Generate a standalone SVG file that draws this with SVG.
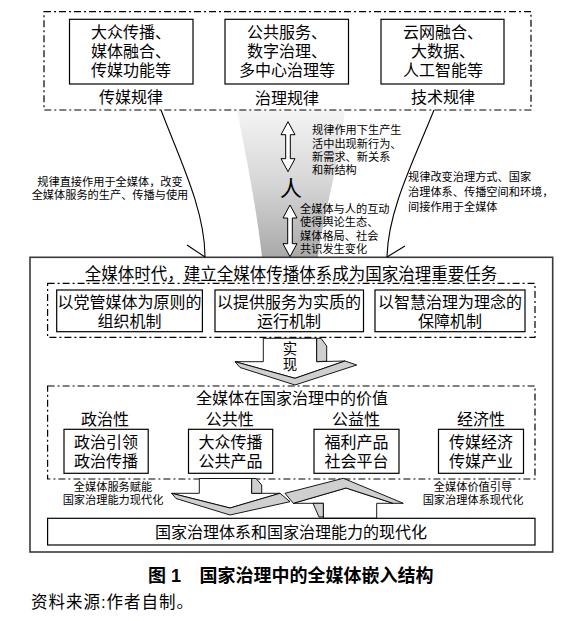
<svg xmlns="http://www.w3.org/2000/svg" width="571" height="621" viewBox="0 0 571 621">
<defs>
<linearGradient id="fun" x1="0" y1="0" x2="0" y2="1">
<stop offset="0" stop-color="#f4f4f4"/>
<stop offset="0.5" stop-color="#d6d6d6"/>
<stop offset="1" stop-color="#a9a9a9"/>
</linearGradient>
<style>
.box{fill:#fff;stroke:#000;stroke-width:1.2}
.dash{fill:none;stroke:#000;stroke-width:1.2;stroke-dasharray:7 3 2 3}
.outer{fill:#fff;stroke:#3a3a3a;stroke-width:1.6}
.ln{fill:none;stroke:#000;stroke-width:1.1}
.dbl{fill:#fff;stroke:#000;stroke-width:1}
.wf{fill:#fff;stroke:#000;stroke-width:0.9;stroke-linejoin:round}
.gf{fill:#cfcfcf;stroke:#000;stroke-width:0.9;stroke-linejoin:round}
text{font-family:"Liberation Sans","Noto Sans CJK SC","Noto Sans CJK TC",sans-serif;fill:#000}
.t16{font-size:16px;text-anchor:middle}
.t11{font-size:11.2px}
.m{text-anchor:middle}
</style>
</defs>
<rect width="571" height="621" fill="#fff"/>
<path d="M237,110 L345,110 C336,180 322,220 318,257 L262,257 C258,220 250,175 237,110 Z" fill="url(#fun)"/>
<g id="laws">
<rect class="dash" x="44" y="11.7" width="487" height="98.3"/>
</g>
<g id="law-media">
<rect class="box" x="69.5" y="19.3" width="123.5" height="64.7"/>
<text class="t16" y="37.5"><tspan x="131">大众传播、</tspan><tspan x="131" dy="19">媒体融合、</tspan><tspan x="131" dy="19">传媒功能等</tspan></text>
<text class="t16" x="131" y="103">传媒规律</text>
</g>
<g id="law-gov">
<rect class="box" x="225" y="19.3" width="123.5" height="64.7"/>
<text class="t16" y="37.5"><tspan x="287">公共服务、</tspan><tspan x="287" dy="19">数字治理、</tspan><tspan x="287" dy="19">多中心治理等</tspan></text>
<text class="t16" x="287" y="104">治理规律</text>
</g>
<g id="law-tech">
<rect class="box" x="381" y="19.3" width="123" height="64.7"/>
<text class="t16" y="37.5"><tspan x="443">云网融合、</tspan><tspan x="443" dy="19">大数据、</tspan><tspan x="443" dy="19">人工智能等</tspan></text>
<text class="t16" x="443" y="103">技术规律</text>
</g>
<g id="person">
<text x="291" y="196" font-size="22" class="m">人</text>
</g>
<g id="notes">
<text class="t11 m" y="186"><tspan x="110">规律直接作用于全媒体，改变</tspan><tspan x="110" dy="13.3">全媒体服务的生产、传播与使用</tspan></text>
<text class="t11" y="181"><tspan x="408">规律改变治理方式、国家</tspan><tspan x="408" dy="15">治理体系、传播空间和环境，</tspan><tspan x="408" dy="15">间接作用于全媒体</tspan></text>
<text class="t11" y="134.3"><tspan x="312">规律作用下生产生</tspan><tspan x="312" dy="13.3">活中出现新行为、</tspan><tspan x="312" dy="13.3">新需求、新关系</tspan><tspan x="312" dy="13.3">和新结构</tspan></text>
<text class="t11" y="212.6"><tspan x="300">全媒体与人的互动</tspan><tspan x="300" dy="13.5">使得舆论生态、</tspan><tspan x="300" dy="13.5">媒体格局、社会</tspan><tspan x="300" dy="13.5">共识发生变化</tspan></text>
</g>
<g id="system">
<rect class="outer" x="30" y="257.3" width="522.7" height="294.7"/>
<text class="m" x="291" y="279.7" font-size="16.5">全媒体时代，建立全媒体传播体系成为国家治理重要任务</text>
<rect class="dash" x="47.6" y="283.3" width="487.4" height="54"/>
</g>
<g id="mech-org">
<rect class="box" x="56.7" y="290" width="145.7" height="41.7"/>
<text class="t16" y="307.7"><tspan x="129.5">以党管媒体为原则的</tspan><tspan x="129.5" dy="19">组织机制</tspan></text>
</g>
<g id="mech-run">
<rect class="box" x="215" y="290" width="148.5" height="41.7"/>
<text class="t16" y="307.7"><tspan x="289">以提供服务为实质的</tspan><tspan x="289" dy="19">运行机制</tspan></text>
</g>
<g id="mech-guard">
<rect class="box" x="375" y="290" width="150" height="41.7"/>
<text class="t16" y="307.7"><tspan x="450">以智慧治理为理念的</tspan><tspan x="450" dy="19">保障机制</tspan></text>
</g>
<g id="value">
<rect class="dash" x="47.6" y="386" width="487.4" height="93"/>
<text class="t16" x="292" y="404.3">全媒体在国家治理中的价值</text>
</g>
<g id="v-political">
<text class="t16" x="105" y="425.3">政治性</text>
<rect class="box" x="64" y="429.3" width="84.2" height="44"/>
<text class="t16" y="447.7"><tspan x="106">政治引领</tspan><tspan x="106" dy="19">政治传播</tspan></text>
</g>
<g id="v-public">
<text class="t16" x="229.7" y="425.3">公共性</text>
<rect class="box" x="188.5" y="429.3" width="84.2" height="44"/>
<text class="t16" y="447.7"><tspan x="230.6">大众传播</tspan><tspan x="230.6" dy="19">公共产品</tspan></text>
</g>
<g id="v-welfare">
<text class="t16" x="356" y="425.3">公益性</text>
<rect class="box" x="314" y="429.3" width="85" height="44"/>
<text class="t16" y="447.7"><tspan x="356.5">福利产品</tspan><tspan x="356.5" dy="19">社会平台</tspan></text>
</g>
<g id="v-economic">
<text class="t16" x="481" y="425.3">经济性</text>
<rect class="box" x="438.5" y="429.3" width="85" height="44"/>
<text class="t16" y="447.7"><tspan x="481">传媒经济</tspan><tspan x="481" dy="19">传媒产业</tspan></text>
</g>
<g id="modern">
<rect class="box" x="47.6" y="518.3" width="487.4" height="26.7"/>
<text class="t16" x="291" y="537.7">国家治理体系和国家治理能力的现代化</text>
</g>
<g id="connectors">
<path class="ln" d="M161,110 C180,160 205,210 205,257"/>
<path class="ln" d="M187,245 L205,257"/>
<path class="ln" d="M434,110 C414,160 388,210 387,257"/>
<path class="ln" d="M405,246 L387,257"/>
<polygon class="dbl" points="288,121.7 295,134.7 290.3,134.7 290.3,158.7 295,158.7 288,171.7 281,158.7 285.7,158.7 285.7,134.7 281,134.7"/>
<polygon class="dbl" points="290,205 297,218 292.3,218 292.3,243.7 297,243.7 290,256.7 283,243.7 287.7,243.7 287.7,218 283,218"/>
<g id="arrow-realize">
<polygon class="wf" points="263.3,338.3 316.7,338.3 316.7,361.7 345,361 295,378.3 235,361.7 263.3,361.7"/>
<polygon class="gf" points="316.7,338.3 321,338.3 326.7,346 326.7,361.2 316.7,361.7"/>
<polygon class="gf" points="235,361.7 295,378.3 345,361 356.7,365 295,385 240,367.5"/>
<text class="m" y="353.6" font-size="14.5"><tspan x="290">实</tspan><tspan x="290" dy="16.3">现</tspan></text>
</g>
<g id="arrow-down">
<polygon class="wf" points="199.3,478.5 251.7,478.5 251.7,493.3 280,493.3 230,508 171.7,493.3 199.3,493.3"/>
<polygon class="gf" points="251.7,478.5 256,478.5 261.7,485 261.7,493.3 251.7,493.3"/>
<polygon class="gf" points="171.7,493.3 230,508 280,493.3 290,501.7 230,515 176,498.5"/>
</g>
<g id="arrow-up">
<polygon class="wf" points="323.3,518 323.3,503.3 293.3,503.3 346,488 393,503.3 376.7,503.3 376.7,518"/>
<polygon class="gf" points="313,503.3 323.3,503.3 323.3,517 319,517"/>
<polygon class="gf" points="285,493.3 343.3,478.3 403.3,503.3 393,503.3 346,488 293.3,503.3"/>
</g>
</g>
<g id="side-labels">
<text class="t11 m" y="490.8"><tspan x="113">全媒体服务赋能</tspan><tspan x="113" dy="12.8">国家治理能力现代化</tspan></text>
<text class="t11 m" y="490.8"><tspan x="473">全媒体价值引导</tspan><tspan x="473" dy="12.8">国家治理体系现代化</tspan></text>
</g>
<g id="caption">
<text x="148" y="581.5" font-size="18" font-weight="bold">图 1</text>
<text x="199.5" y="581.5" font-size="18" font-weight="bold">国家治理中的全媒体嵌入结构</text>
<text x="31" y="607.7" font-size="16.5" letter-spacing="1">资料来源:作者自制。</text>
</g>
</svg>
